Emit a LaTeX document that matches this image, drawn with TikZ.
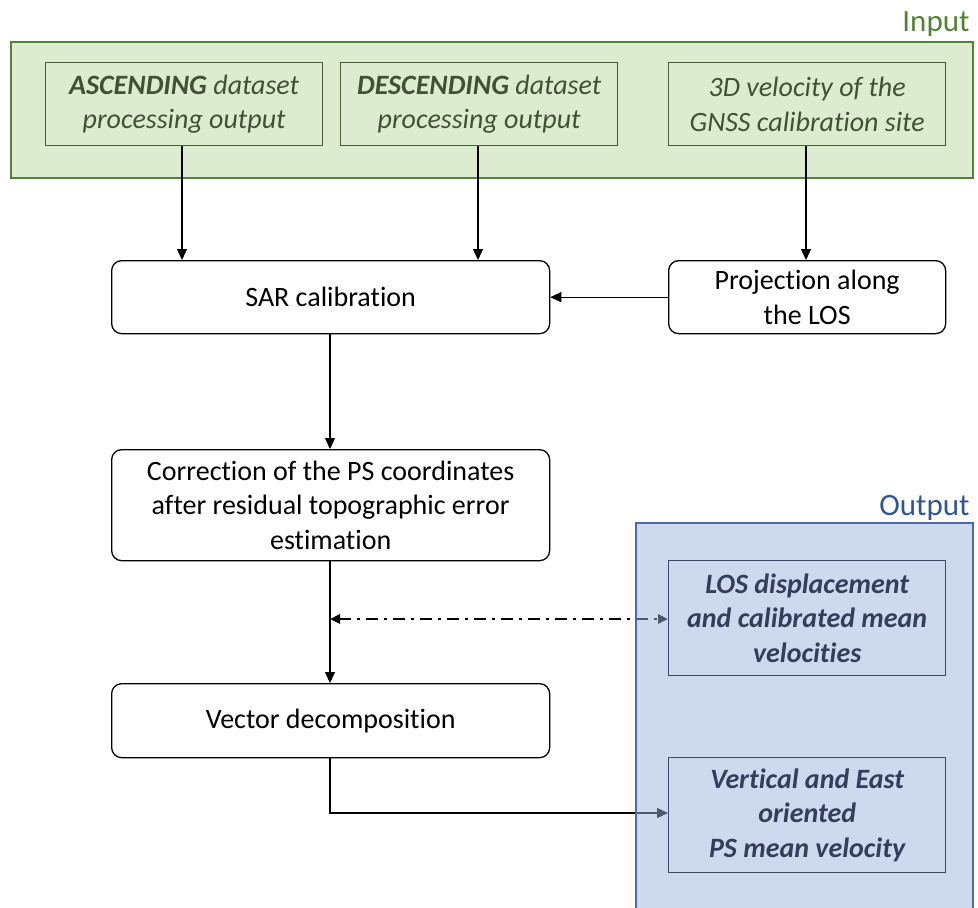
\documentclass[tikz,border=0pt]{standalone}
\usepackage{fontspec}
\setmainfont{Carlito}[Ligatures=NoCommon]
\usetikzlibrary{arrows.meta}
\definecolor{inFill}{RGB}{221,235,209}
\definecolor{inLine}{RGB}{84,130,53}
\definecolor{inBox}{RGB}{70,95,50}
\definecolor{inText}{RGB}{66,80,52}
\definecolor{outFill}{RGB}{159,179,221}
\definecolor{outLine}{RGB}{74,106,176}
\definecolor{outBox}{RGB}{60,72,100}
\definecolor{outText}{RGB}{50,62,90}
\definecolor{outLabel}{RGB}{47,85,151}
\tikzset{
  x=1pt, y=-1pt,
  every node/.style={font=\fontsize{28}{34.5}\selectfont},
  procbox/.style={draw=black, line width=1.3pt, rounded corners=10pt, fill=white},
  inbox/.style={draw=inBox, line width=1.3pt, fill=inFill, text=inText, font=\fontsize{28}{34.5}\selectfont\itshape},
  outbox/.style={draw=outBox, line width=1.3pt, text=outText, font=\fontsize{28}{34.5}\selectfont\bfseries\itshape},
  flow/.style={line width=1.3pt, -{Triangle[length=11pt,width=10pt]}},
  panellabel/.style={anchor=base east, font=\fontsize{31}{34}\selectfont},
}
\begin{document}
\begin{tikzpicture}
\useasboundingbox (0,0) rectangle (978,908);

% input panel
\node[draw=inLine, line width=1.6pt, fill=inFill, minimum width=962pt, minimum height=136pt, anchor=north west, inner sep=0] (inpanel) at (10,41) {};
\node[panellabel, text=inLine] (inlabel) at (973,31) {Input};

\node[inbox, minimum width=277pt, minimum height=83pt, anchor=north west, inner sep=0, align=center] (asc) at (45,62) {\textbf{ASCENDING} dataset\\processing output};
\node[inbox, minimum width=277pt, minimum height=83pt, anchor=north west, inner sep=0, align=center] (desc) at (340,62) {\textbf{DESCENDING} dataset\\processing output};
\node[inbox, minimum width=277pt, minimum height=83pt, anchor=north west, inner sep=0, align=center] (gnss) at (668,62) {3D velocity of the\\GNSS calibration site};

% processing steps
\node[procbox, minimum width=438pt, minimum height=73pt, anchor=north west, inner sep=0] (sar) at (111,260) {SAR calibration};
\node[procbox, minimum width=277pt, minimum height=73pt, anchor=north west, inner sep=0, align=center] (proj) at (668,260) {Projection along\\the LOS};
\node[procbox, minimum width=438pt, minimum height=111pt, anchor=north west, inner sep=0, align=center] (corr) at (111,449) {Correction of the PS coordinates\\after residual topographic error\\estimation};
\node[procbox, minimum width=438pt, minimum height=74pt, anchor=north west, inner sep=0] (vec) at (111,683) {Vector decomposition};

% connectors
\draw[flow] (asc.south -| 182,0) -- (sar.north -| 182,0);
\draw[flow] (desc.south -| 478,0) -- (sar.north -| 478,0);
\draw[flow] (gnss.south -| 806,0) -- (proj.north -| 806,0);
\draw[flow] (proj.west) -- (sar.east);
\draw[flow] (sar.south -| 330,0) -- (corr.north -| 330,0);
\draw[flow] (corr.south -| 330,0) -- (vec.north -| 330,0);
\coordinate (tap) at (330,619);
\coordinate (losin) at (668,619);
\draw[line width=2.6pt, dash pattern=on 12pt off 6pt on 3pt off 6pt, {Triangle[length=10pt,width=9pt]}-{Triangle[length=10pt,width=9pt]}] (tap) -- (losin);
\coordinate (turn) at (330,813);
\draw[flow] (vec.south -| 330,0) -- (turn) -- (668,813);

% output panel, laid translucently over the connectors
\node[draw=outLine, line width=1.6pt, fill=outFill, fill opacity=0.5, minimum width=337pt, minimum height=400pt, anchor=north west, inner sep=0] (outpanel) at (635,522) {};
\node[panellabel, text=outLabel] (outlabel) at (973,515) {Output};

\node[outbox, minimum width=277pt, minimum height=115pt, anchor=north west, inner sep=0, align=center] (los) at (668,560) {LOS displacement\\and calibrated mean\\velocities};
\node[outbox, minimum width=277pt, minimum height=115pt, anchor=north west, inner sep=0, align=center] (vert) at (668,757) {Vertical and East\\oriented\\PS mean velocity};
\end{tikzpicture}
\end{document}
